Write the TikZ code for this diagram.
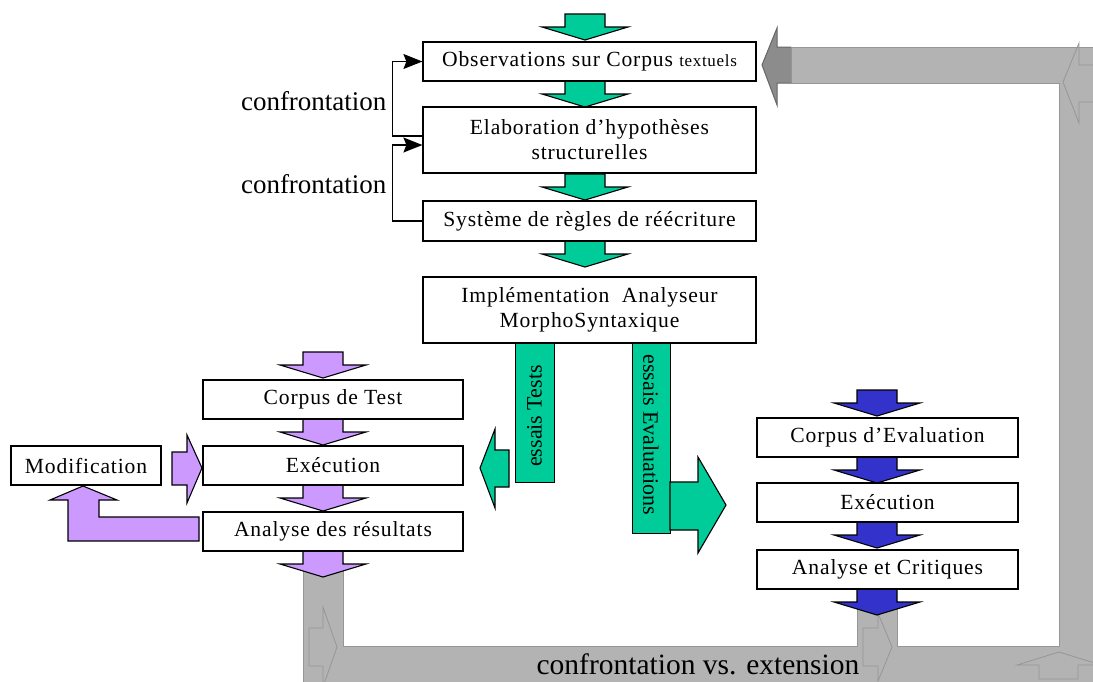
\documentclass[tikz,border=0pt]{standalone}
\usepackage{fontspec}
\setmainfont{Liberation Serif}
\usepackage{tikz}
\usetikzlibrary{arrows.meta,positioning}
\definecolor{tgreen}{RGB}{0,204,153}
\definecolor{tpurple}{RGB}{204,153,255}
\definecolor{tblue}{RGB}{51,51,204}
\definecolor{tgray}{RGB}{179,179,179}
\definecolor{tdark}{RGB}{140,140,140}
\definecolor{tline}{RGB}{150,150,150}

\begin{document}
\begin{tikzpicture}[x=1pt, y=-1pt,
            box/.style = {draw, fill=white, line width=1.2pt, inner sep=0pt, align=center,
                          font=\fontsize{21.6}{25}\selectfont\addfontfeatures{LetterSpace=4}},
            bigbox/.style = {box, minimum width=333pt},
            lbox/.style = {box, minimum width=260pt, minimum height=39pt},
            rbox/.style = {box, minimum width=261pt, minimum height=39pt},
            block/.style = {draw, line width=1.1pt},
            band/.style = {draw=tline, line width=0.8pt},
            confarrow/.style = {line width=1.2pt, -{Stealth[length=19pt,width=15pt,inset=3pt]}},
            blockdown/.pic = {\path[pic actions] (-20,0) -- (20,0) -- (20,13) -- (43,13)
                               -- (0,26) -- (-43,13) -- (-20,13) -- cycle;}
            ]
            \useasboundingbox (0,0) rectangle (1093,681);

            \begin{scope}
                \clip (0,0) rectangle (1093,681);
                \path[band, fill=tgray] (303,562) -- (343,562) -- (343,646) -- (857,646) -- (857,602)
                    -- (897,602) -- (897,646) -- (1059,646) -- (1059,83) -- (791,83) -- (791,47)
                    -- (1100,47) -- (1100,690) -- (303,690) -- cycle;
                \path[band] (309,666) -- (309,628) -- (323,628) -- (323,607) -- (337,647)
                    -- (323,687) -- (323,666) -- cycle;
                \path[band] (863,666) -- (863,628) -- (878,628) -- (878,613) -- (892,647)
                    -- (878,681) -- (878,666) -- cycle;
                \path[band] (1100,65) -- (1079,65) -- (1079,43) -- (1063,82) -- (1079,123)
                    -- (1079,102) -- (1100,102);
                \path[band] (1039,679) -- (1039,665) -- (1017,665) -- (1059,652) -- (1101,665)
                    -- (1078,665) -- (1078,679) -- cycle;
                \path[draw=black!60, line width=1pt, fill=tdark] (791,47) -- (777,47) -- (777,28)
                    -- (762,65) -- (777,105) -- (777,83) -- (791,83);
            \end{scope}

            \pic[block, fill=tgreen] at (585,14) {blockdown};
            \pic[block, fill=tgreen] at (585,81) {blockdown};
            \pic[block, fill=tgreen] at (585,174) {blockdown};
            \pic[block, fill=tgreen] at (585,241) {blockdown};

            \node[bigbox, minimum height=39pt] (obs) at (589.5,61.5)
                {Observations sur Corpus {\fontsize{17}{20}\selectfont textuels}};
            \node[bigbox, minimum height=66pt] (hyp) at (589.5,140)
                {Elaboration d'hypothèses\\structurelles};
            \node[bigbox, minimum height=40pt] (regles) at (589.5,221)
                {Système de règles de réécriture};
            \node[bigbox, minimum height=66pt] (impl) at (589.5,310)
                {Implémentation~~Analyseur\\MorphoSyntaxique};

            \draw[confarrow] ([yshift=4pt]hyp.west) -- ++(-30,0) |- (obs.west);
            \draw[confarrow] (regles.west) -- ++(-30,0) |- ([yshift=-5pt]hyp.west);
            \node[anchor=east, font=\fontsize{27}{30}\selectfont] (conf1) at (390,101) {confrontation};
            \node[anchor=east, font=\fontsize{27}{30}\selectfont] (conf2) at (390,184) {confrontation};

            \node[draw, fill=tgreen, line width=1.1pt, minimum width=39pt, minimum height=139pt,
                  anchor=north west, inner sep=0pt] (tests) at (515,343) {};
            \node[rotate=90, font=\fontsize{22}{25}\selectfont] at (534.5,416) {essais Tests};
            \node[draw, fill=tgreen, line width=1.1pt, minimum width=38pt, minimum height=190pt,
                  anchor=north west, inner sep=0pt] (evals) at (632,343) {};
            \node[rotate=-90, font=\fontsize{22}{25}\selectfont] at (651,435) {essais Evaluations};
            \path[block, fill=tgreen] (509,450) -- (509,487) -- (495,487) -- (495,508) -- (480,468)
                -- (495,429) -- (495,450) -- cycle;
            \path[block, fill=tgreen] (670,482) -- (698,482) -- (698,457) -- (726,505) -- (698,553)
                -- (698,530) -- (670,530) -- cycle;

            \pic[block, fill=tpurple] at (323,352) {blockdown};
            \pic[block, fill=tpurple] at (323,419) {blockdown};
            \pic[block, fill=tpurple] at (323,485) {blockdown};
            \pic[block, fill=tpurple] at (323,551) {blockdown};
            \node[lbox] (ctest) at (333,399.5) {Corpus de Test};
            \node[lbox] (exec1) at (333,465.5) {Exécution};
            \node[lbox] (res) at (333,531.5) {Analyse des résultats};
            \node[box, minimum width=150pt, minimum height=39pt] (modif) at (86,465.5) {Modification};
            \path[block, fill=tpurple] (172,452) -- (187,452) -- (187,435) -- (202,468) -- (187,503)
                -- (187,485) -- (172,485) -- cycle;
            \path[block, fill=tpurple] (199,517) -- (199,541) -- (68,541) -- (68,500) -- (50,500)
                -- (83,486) -- (117,500) -- (99,500) -- (99,517) -- cycle;

            \pic[block, fill=tblue] at (877,390) {blockdown};
            \pic[block, fill=tblue] at (877,457) {blockdown};
            \pic[block, fill=tblue] at (877,522) {blockdown};
            \pic[block, fill=tblue] at (877,589) {blockdown};
            \node[rbox] (ceval) at (887.5,437.5) {Corpus d'Evaluation};
            \node[rbox] (exec2) at (887.5,502.5) {Exécution};
            \node[rbox] (crit) at (887.5,569.5) {Analyse et Critiques};

            \node[font=\fontsize{29.5}{32}\selectfont] (loop) at (698,664) {confrontation vs. extension};
        \end{tikzpicture}
\end{document}
